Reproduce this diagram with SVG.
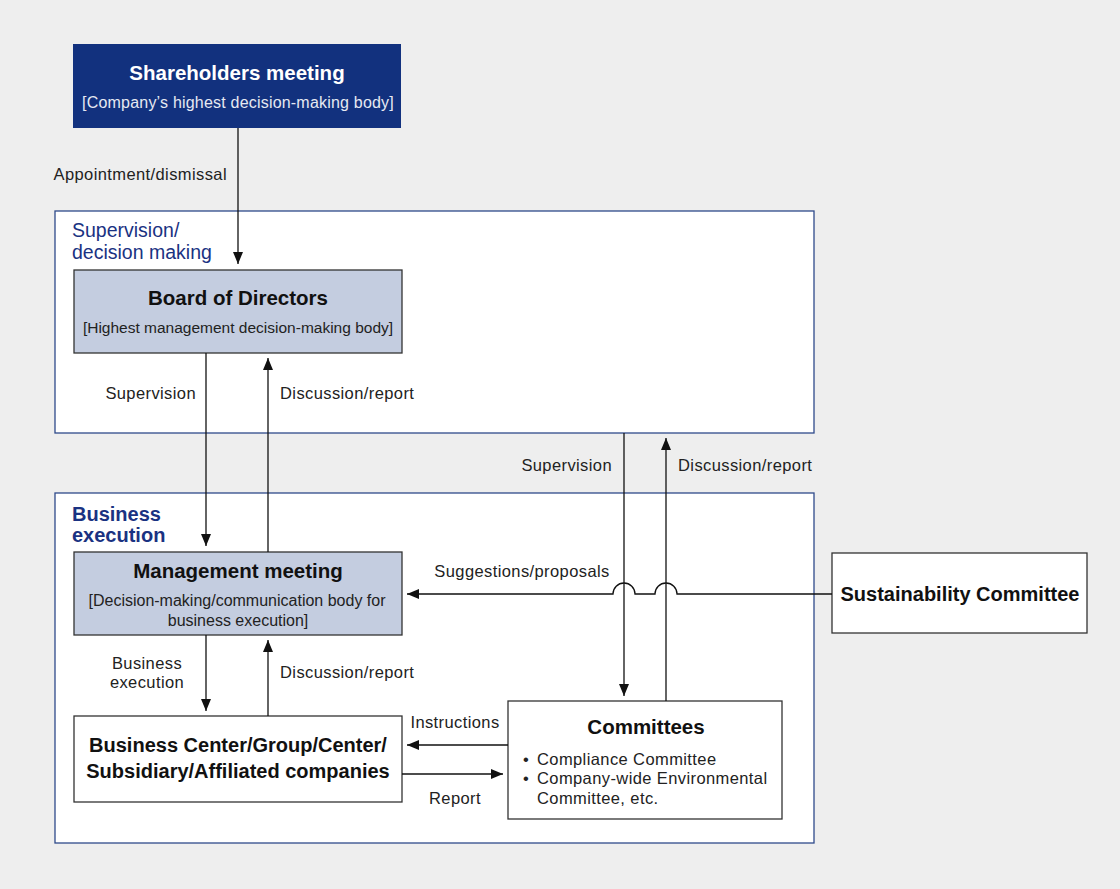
<svg xmlns="http://www.w3.org/2000/svg" width="1120" height="889" viewBox="0 0 1120 889">
<style>
text{font-family:"Liberation Sans",Arial,sans-serif;}
.t{font-size:20.5px;font-weight:bold;fill:#111;text-anchor:middle;}
.s{font-size:16px;fill:#222;text-anchor:middle;}
.l{font-size:16.5px;fill:#222;letter-spacing:0.4px;}
.h{font-size:19.5px;fill:#1a3282;}
.panel{fill:#fff;stroke:#2f4a8a;stroke-width:1.3;}
.node{stroke:#333;stroke-width:1.3;}
.ln{stroke:#111;stroke-width:1.3;fill:none;}
</style>
<defs>
<marker id="ah" viewBox="0 0 12 10" refX="12" refY="5" markerWidth="12" markerHeight="10" markerUnits="userSpaceOnUse" orient="auto">
<path d="M0,0 L12,5 L0,10 Z" fill="#111"/>
</marker>
</defs>
<rect width="1120" height="889" fill="#eeeeee"/>
<rect class="panel" x="55" y="211" width="759" height="222"/>
<text class="h" x="72" y="237">Supervision/</text>
<text class="h" x="72" y="259">decision making</text>
<rect class="panel" x="55" y="493" width="759" height="350"/>
<text class="h" x="72" y="521" style="font-weight:bold;font-size:20px">Business</text>
<text class="h" x="72" y="542" style="font-weight:bold;font-size:20px">execution</text>

<g id="shareholders">
<rect x="73" y="44" width="328" height="84" fill="#12317e"/>
<text class="t" x="237" y="80" style="fill:#fff">Shareholders meeting</text>
<text class="s" x="238" y="108" style="fill:#e6e9f2;letter-spacing:0.2px">[Company’s highest decision-making body]</text>
</g>
<g id="board">
<rect class="node" x="74" y="270" width="328" height="83" fill="#c4cde0"/>
<text class="t" x="238" y="305">Board of Directors</text>
<text class="s" x="238" y="333" style="font-size:15.5px">[Highest management decision-making body]</text>
</g>
<g id="management">
<rect class="node" x="74" y="552" width="328" height="83" fill="#c4cde0"/>
<text class="t" x="238" y="578">Management meeting</text>
<text class="s" x="237" y="606">[Decision-making/communication body for</text>
<text class="s" x="238" y="626">business execution]</text>
</g>
<g id="business">
<rect class="node" x="74" y="716" width="328" height="86" fill="#fff"/>
<text class="t" x="238" y="752" style="font-size:20px">Business Center/Group/Center/</text>
<text class="t" x="238" y="778" style="font-size:20px">Subsidiary/Affiliated companies</text>
</g>
<g id="committees">
<rect class="node" x="508" y="701" width="274" height="118" fill="#fff"/>
<text class="t" x="646" y="734">Committees</text>
<text class="l" x="523" y="765">•</text>
<text class="l" x="537" y="765">Compliance Committee</text>
<text class="l" x="523" y="784">•</text>
<text class="l" x="537" y="784">Company-wide Environmental</text>
<text class="l" x="537" y="804">Committee, etc.</text>
</g>
<g id="sustainability">
<rect class="node" x="832" y="553" width="255" height="80" fill="#fff"/>
<text class="t" x="960" y="601" style="font-size:20px">Sustainability Committee</text>
</g>

<g id="connectors">
<line class="ln" x1="238" y1="128" x2="238" y2="264" marker-end="url(#ah)"/>
<line class="ln" x1="206" y1="353" x2="206" y2="546" marker-end="url(#ah)"/>
<line class="ln" x1="268" y1="552" x2="268" y2="358" marker-end="url(#ah)"/>
<line class="ln" x1="206" y1="635" x2="206" y2="711" marker-end="url(#ah)"/>
<line class="ln" x1="268" y1="716" x2="268" y2="640" marker-end="url(#ah)"/>
<line class="ln" x1="624" y1="433" x2="624" y2="696" marker-end="url(#ah)"/>
<line class="ln" x1="666" y1="701" x2="666" y2="438" marker-end="url(#ah)"/>
<line class="ln" x1="508" y1="745" x2="407" y2="745" marker-end="url(#ah)"/>
<line class="ln" x1="402" y1="774" x2="503" y2="774" marker-end="url(#ah)"/>
<path class="ln" d="M832,594 L677,594 A11,11 0 0 0 655,594 L635,594 A11,11 0 0 0 613,594 L407,594" marker-end="url(#ah)"/>
</g>

<g id="labels">
<text class="l" x="227" y="180" text-anchor="end">Appointment/dismissal</text>
<text class="l" x="196" y="399" text-anchor="end">Supervision</text>
<text class="l" x="280" y="399">Discussion/report</text>
<text class="l" x="612" y="471" text-anchor="end">Supervision</text>
<text class="l" x="678" y="471">Discussion/report</text>
<text class="l" x="522" y="577" text-anchor="middle">Suggestions/proposals</text>
<text class="l" x="147" y="669" text-anchor="middle">Business</text>
<text class="l" x="147" y="688" text-anchor="middle">execution</text>
<text class="l" x="280" y="678">Discussion/report</text>
<text class="l" x="455" y="728" text-anchor="middle">Instructions</text>
<text class="l" x="455" y="804" text-anchor="middle">Report</text>
</g>
</svg>
